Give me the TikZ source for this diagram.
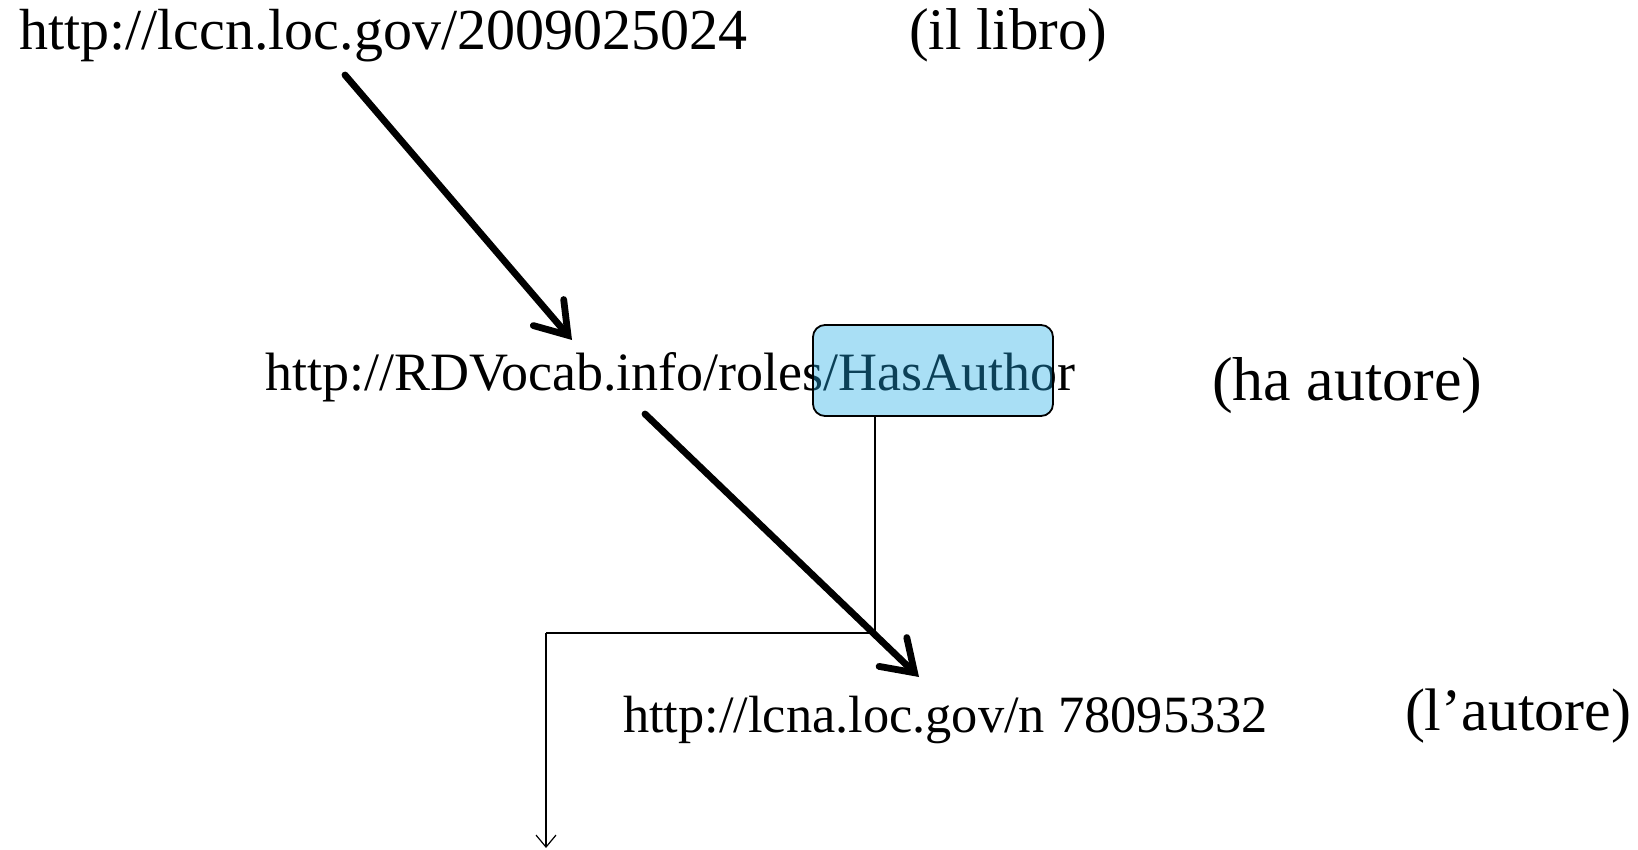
\documentclass[tikz,border=0pt]{standalone}
\usepackage{fontspec}
\setmainfont{Liberation Serif}
\usetikzlibrary{arrows.meta}
\definecolor{boxblue}{RGB}{30,170,230}
\tikzset{
  lbl/.style={anchor=base west, inner sep=0pt, outer sep=0pt, text=black},
  thickarrow/.style={line width=3.4pt, line cap=round, -{Straight Barb[length=15pt, width=20pt, line width=3.4pt, line cap=round, line join=miter]}},
  thinconn/.style={line width=0.75pt, -{Straight Barb[length=6pt, width=10pt, line width=0.6pt]}},
  hbox/.style={draw=black, line width=0.9pt, rounded corners=6pt, fill=boxblue, fill opacity=0.38, draw opacity=1}
}
\begin{document}
\begin{tikzpicture}[x=0.5pt, y=-0.5pt]
\useasboundingbox (0,0) rectangle (1638,850);
% texts
\node[lbl, font=\fontsize{29}{34}\selectfont] (book) at (19,50) {http://lccn.loc.gov/2009025024};
\node[lbl, font=\fontsize{29.5}{34}\selectfont] (bookl) at (909,50) {(il libro)};
\node[lbl, font=\fontsize{27}{32}\selectfont] (prop) at (265,390) {http://RDVocab.info/roles/HasAuthor};
\node[lbl, font=\fontsize{31}{36}\selectfont] (propl) at (1212,400) {(ha autore)};
\node[lbl, font=\fontsize{26.2}{31}\selectfont] (auth) at (623,732) {http://lcna.loc.gov/n 78095332};
\node[lbl, font=\fontsize{30}{35}\selectfont] (authl) at (1405,730) {(l’autore)};
% highlight box
\path[hbox] (813,325) rectangle (1053,416);
\coordinate (boxs) at (875,416);
\coordinate (bend) at (875,633);
\coordinate (bend2) at (546,633);
\coordinate (cend) at (546,848);
\draw[line width=0.75pt] (boxs) -- (bend) -- (bend2);
\draw[thinconn] (bend2) -- (cend);
% thick arrows
\coordinate (a1s) at (345,75);
\coordinate (a1e) at (572,340);
\coordinate (a2s) at (645,414);
\coordinate (a2e) at (919,677);
\draw[thickarrow] (a1s) -- (a1e);
\draw[thickarrow] (a2s) -- (a2e);
\end{tikzpicture}
\end{document}
